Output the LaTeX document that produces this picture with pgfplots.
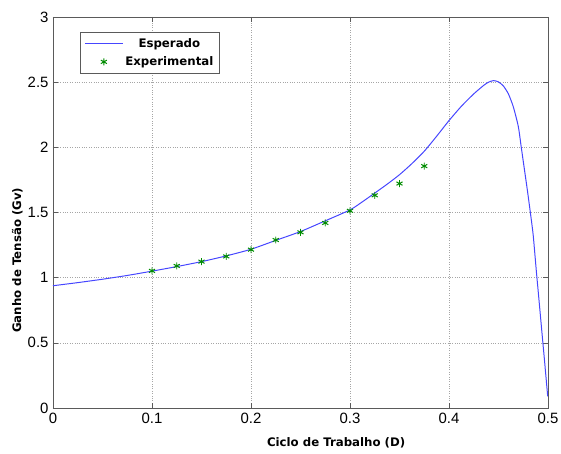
\documentclass[border=0pt]{standalone}
\usepackage{pgfplots}
\pgfplotsset{compat=1.18}
\usepackage{fontspec}
\setmainfont{Liberation Sans}
\newfontfamily\labfont{DejaVu Sans}
\definecolor{curveblue}{RGB}{70,70,255}
\definecolor{mkgreen}{RGB}{0,140,0}
\definecolor{axgray}{RGB}{90,90,90}
\pgfplotsset{
  lineleg/.style={legend image code/.code={\draw[##1, line width=1pt] (0bp,0bp) -- (38bp,0bp);}},
  markleg/.style={legend image code/.code={\draw[##1] plot coordinates {(19bp,0bp)};}},
}
\begin{document}
\begin{tikzpicture}
\begin{axis}[
  scale only axis,
  width=495bp, height=391bp,
  at={(0,0)}, anchor=south west,
  xmin=0, xmax=0.5, ymin=0, ymax=3,
  xtick={0,0.1,0.2,0.3,0.4,0.5},
  ytick={0,0.5,1,1.5,2,2.5,3},
  xticklabels={0,0.1,0.2,0.3,0.4,0.5},
  yticklabels={0,0.5,1,1.5,2,2.5,3},
  tick align=inside,
  tick pos=both,
  major tick length=5bp,
  tick style={axgray, line width=0.6pt},
  axis line style={axgray, line width=0.8pt},
  grid=major,
  major grid style={gray!70, dotted, line width=0.6pt},
  ticklabel style={font=\fontsize{15}{17}\selectfont},
  xticklabel style={yshift=-2bp},
  yticklabel style={xshift=-1bp},
  xlabel={\labfont\bfseries Ciclo de Trabalho (D)},
  ylabel={\labfont\bfseries Ganho de Tensão (Gv)},
  label style={font=\fontsize{11.8}{14}\selectfont},
  xlabel style={at={(axis description cs:0.572,-0.0895)}, anchor=center},
  ylabel style={at={(axis description cs:-0.072,0.378)}, anchor=center, rotate=0},
  legend style={at={(axis description cs:0.0545,0.962)}, anchor=north west,
    draw=axgray, line width=0.8pt, font=\labfont\bfseries\fontsize{11.8}{14}\selectfont,
    inner xsep=4bp, inner ysep=4bp, row sep=4bp,
    /tikz/every even column/.append style={column sep=4bp}},
  legend cell align=center,
]
\addplot[curveblue, line width=1pt, smooth, tension=0.4, lineleg] coordinates {
(0,0.938) (0.025,0.962) (0.05,0.988) (0.075,1.017) (0.1,1.05) (0.125,1.085)
(0.15,1.123) (0.175,1.167) (0.2,1.218) (0.225,1.286) (0.25,1.354) (0.275,1.436)
(0.3,1.52) (0.3125,1.582) (0.325,1.649) (0.3375,1.717) (0.35,1.79) (0.3625,1.875)
(0.375,1.97) (0.3875,2.085) (0.4,2.205) (0.4125,2.315) (0.425,2.41) (0.435,2.475)
(0.44,2.50) (0.445,2.512) (0.45,2.502) (0.455,2.47) (0.46,2.41) (0.465,2.31)
(0.47,2.16) (0.473,2.00) (0.476,1.84) (0.479,1.68) (0.482,1.51) (0.485,1.33)
(0.488,1.07) (0.491,0.82) (0.494,0.57) (0.497,0.32) (0.4997,0.09)
};
\addlegendentry{Esperado}
\addplot[only marks, mark=asterisk, mark size=3.5pt, mkgreen, mark options={line width=1pt}, markleg] coordinates {
(0.1,1.052) (0.125,1.09) (0.15,1.123) (0.175,1.163) (0.2,1.215) (0.225,1.289)
(0.25,1.348) (0.275,1.42) (0.3,1.513) (0.325,1.632) (0.35,1.722) (0.375,1.856)
};
\addlegendentry{Experimental}
\end{axis}
\pgfresetboundingbox
\path[use as bounding box] (-53bp,-46bp) rectangle (508bp,408bp);
\end{tikzpicture}
\end{document}
